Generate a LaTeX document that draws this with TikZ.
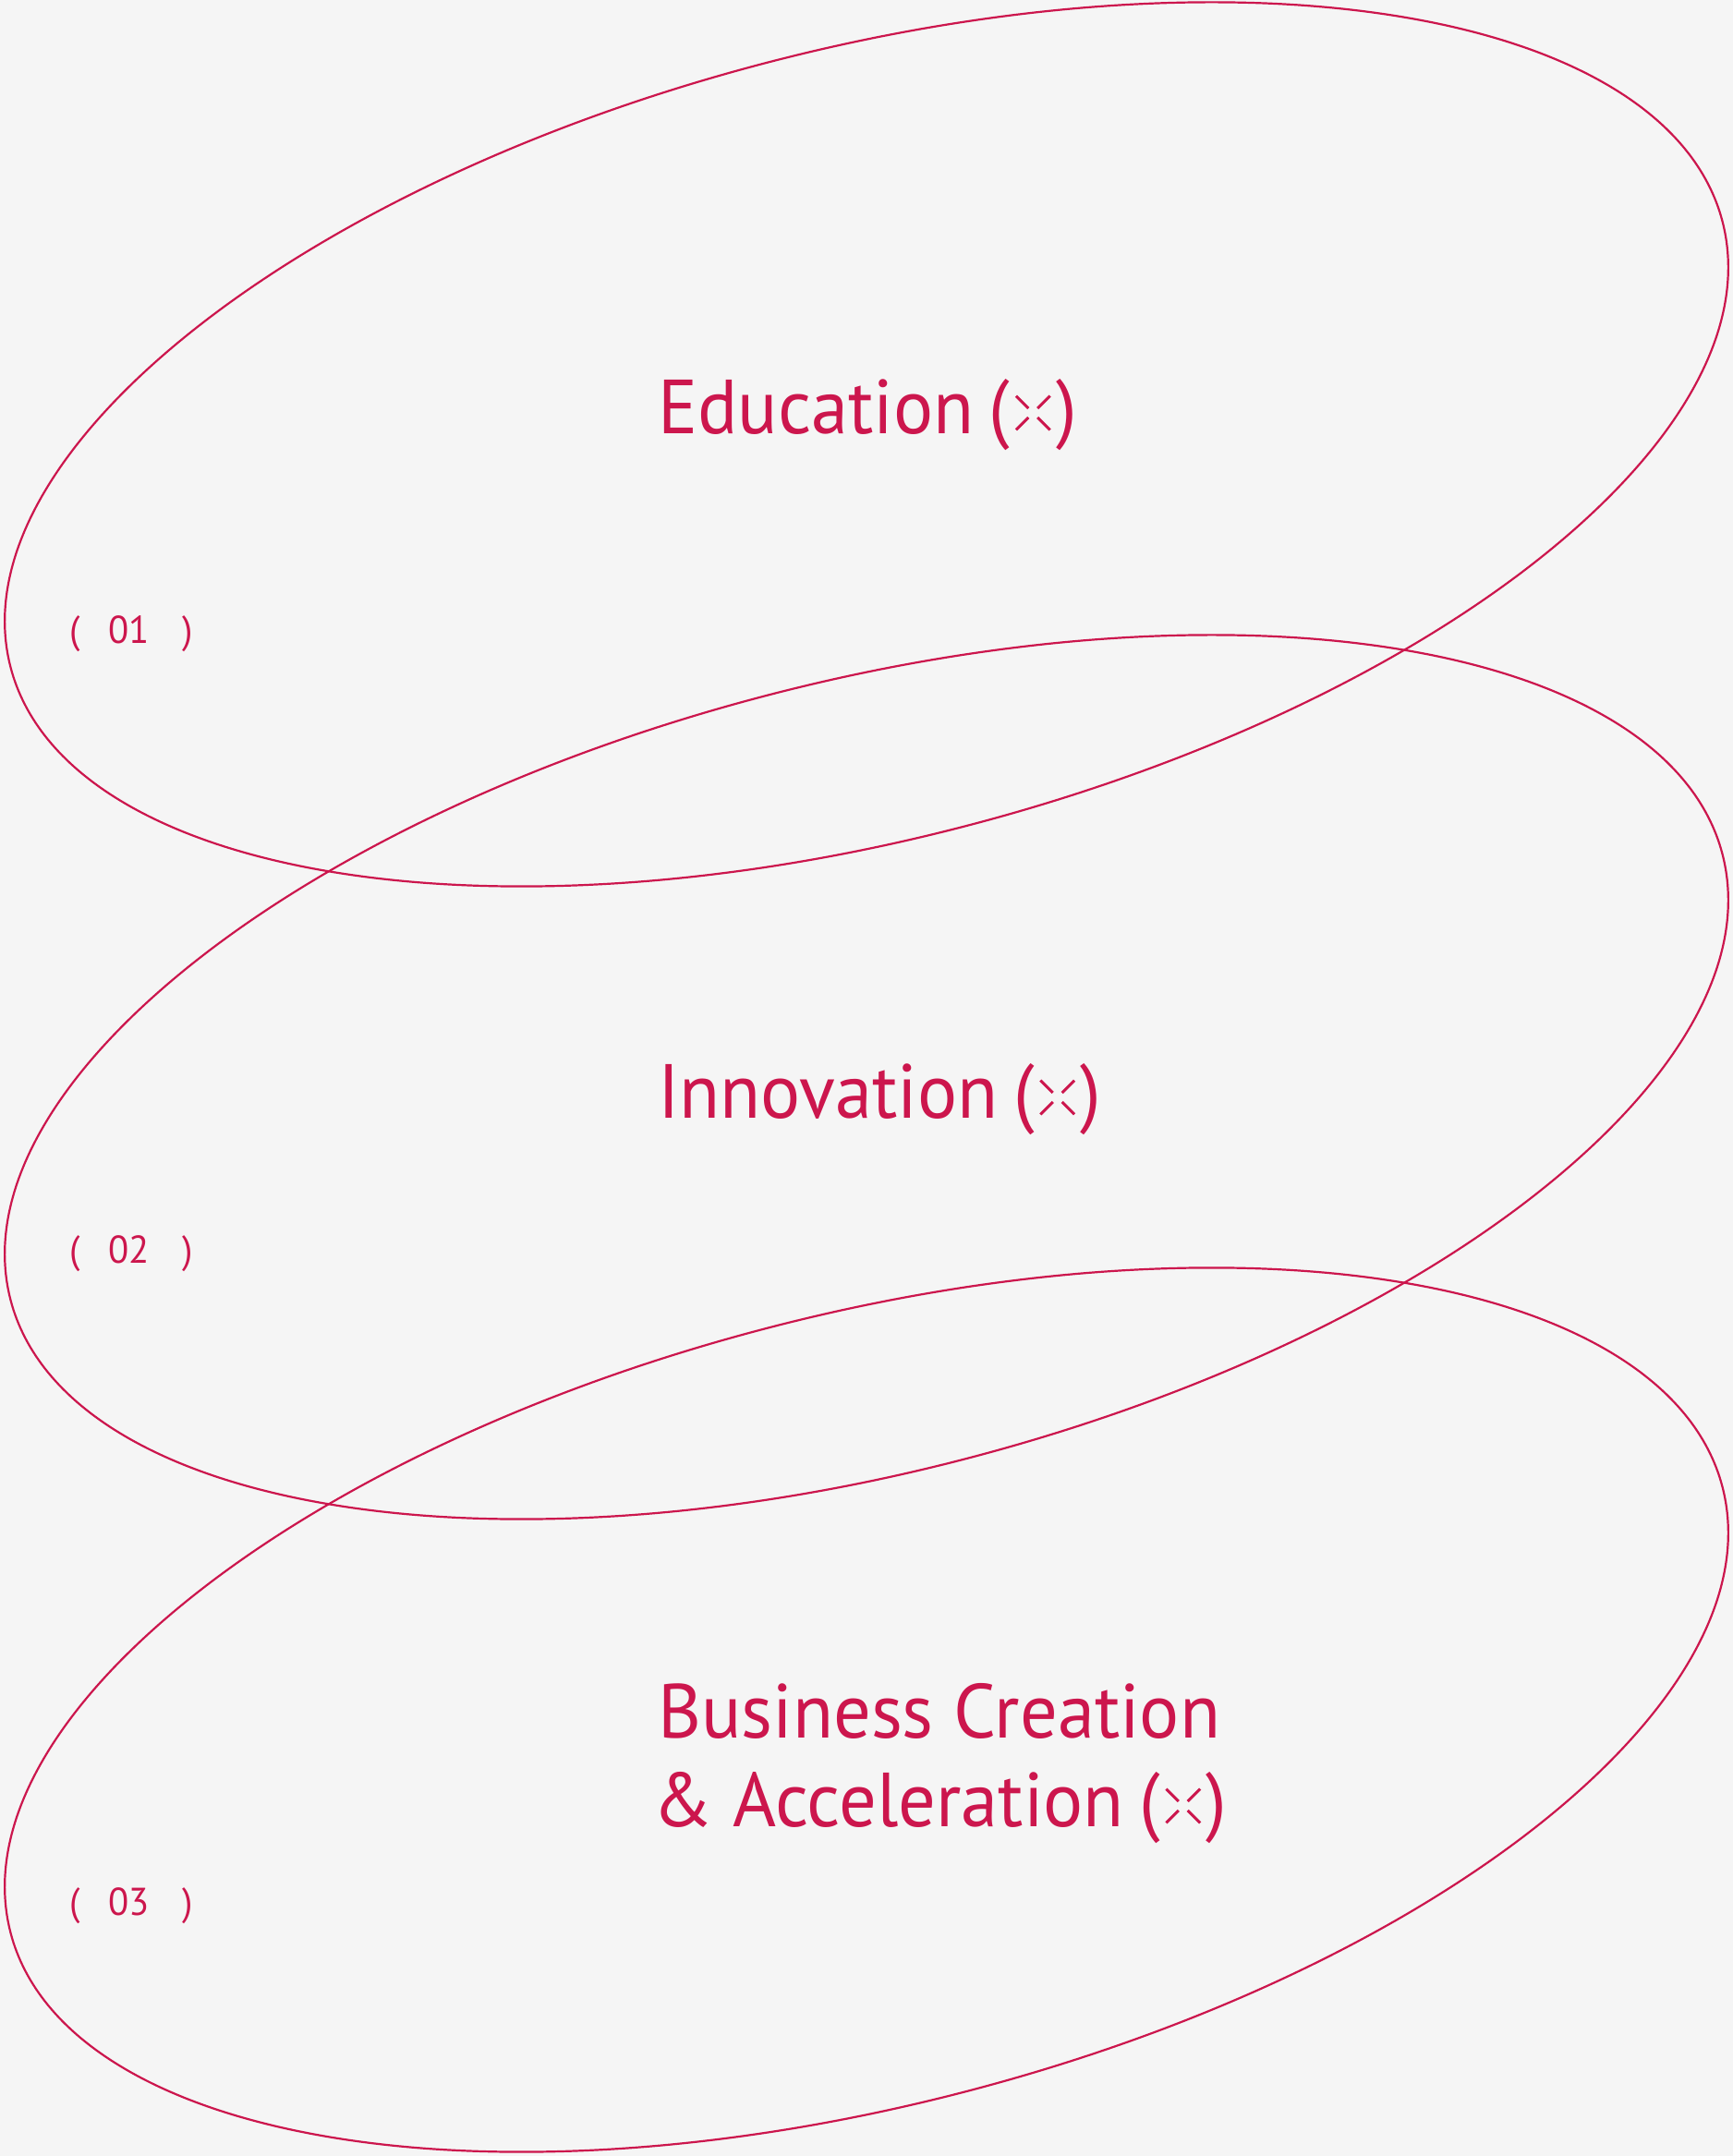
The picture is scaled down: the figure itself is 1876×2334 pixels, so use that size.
\documentclass[tikz,border=0pt]{standalone}
\usepackage{fontspec}
\setmainfont{PT Sans}[FakeStretch=0.97]
\usetikzlibrary{positioning}
\definecolor{brandred}{RGB}{204,22,77}
\definecolor{paper}{RGB}{245,245,245}

\begin{document}
\begin{tikzpicture}[x=1pt,y=1pt,
  ring/.style={draw=brandred,line width=2.2pt},
  title/.style={text=brandred,font=\fontsize{83}{98}\selectfont,inner sep=0pt,anchor=base west},
  num/.style={text=brandred,font=\fontsize{42}{50}\selectfont,inner sep=0pt,anchor=base west},
  gapcross/.pic={\foreach \a in {45,135,225,315} \draw[brandred,line width=3pt] (\a:7) -- (\a:26);}]
  \fill[paper] (0,0) rectangle (1876,2334);
  \useasboundingbox (0,0) rectangle (1876,2334);
  % the three rings
  \foreach \cy in {1853,1168,483}
    \draw[ring,rotate around={14.6:(938,\cy)}] (938,\cy) ellipse [x radius=957.5,y radius=427];
  % titles
  \node[title] (edu) at (712,1864) {Education};
  \node[title] (edupar) at ([xshift=16pt]edu.base east) {(\hspace{50pt})};
  \pic at ([yshift=23pt]edupar.base) {gapcross};
  \node[title] (inno) at (712,1123) {Innovation};
  \node[title] (innopar) at ([xshift=16pt]inno.base east) {(\hspace{50pt})};
  \pic at ([yshift=23pt]innopar.base) {gapcross};
  \node[title] (bus) at (712,452) {Business Creation};
  \node[title] (acc) at ([xshift=-6pt,yshift=-96pt]bus.base west) {\&\ Acceleration};
  \node[title] (accpar) at ([xshift=16pt]acc.base east) {(\hspace{50pt})};
  \pic at ([yshift=23pt]accpar.base) {gapcross};
  % numbers
  \node[num] (n1) at (75,1637) {(\hspace{31pt}01\hspace{36pt})};
  \node[num] (n2) at (75,966) {(\hspace{31pt}02\hspace{36pt})};
  \node[num] (n3) at (75,260) {(\hspace{31pt}03\hspace{36pt})};
\end{tikzpicture}
\end{document}
